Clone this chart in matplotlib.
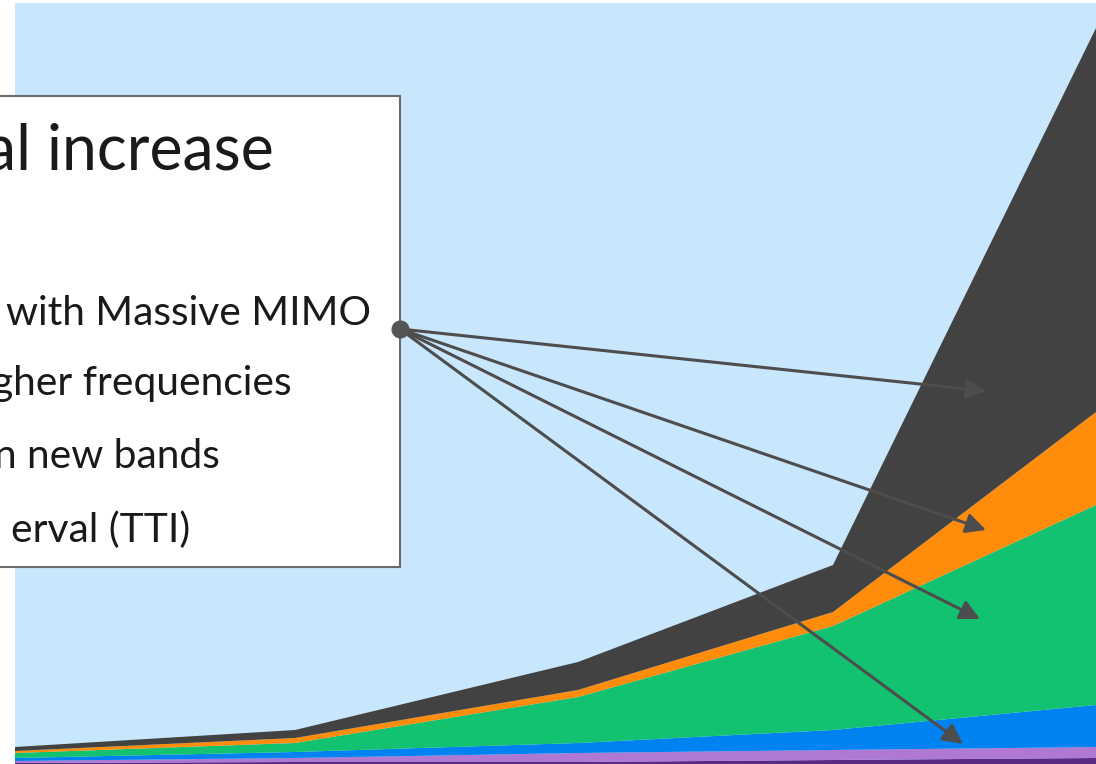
import matplotlib.pyplot as plt
from matplotlib.patches import Rectangle

# ---- data: stacked layers, bottom to top ----
x = [0, 280, 563, 818, 1081]
dark_purple = [1, 2, 2, 4, 6]
light_purple = [2, 4, 9, 10, 11]
blue = [3, 6, 10, 20, 42]
green = [5, 9, 46, 104, 200]
orange = [2, 5, 7, 14, 93]
gray = [4, 8, 28, 47, 384]

layers = [dark_purple, light_purple, blue, green, orange, gray]
colors = ['#5a2a82', '#af78d2', '#0082f0', '#12c271', '#ff8c0a', '#424242']

text_lines = ['with Massive MIMO', 'gher frequencies', 'n new bands', 'erval (TTI)']
title = 'al increase'

W, H = 1096, 764
fig = plt.figure(figsize=(W / 100, H / 100), dpi=100)
fig.patch.set_facecolor('white')

ax = fig.add_axes([15 / W, 0, (W - 15) / W, (H - 3) / H])
ax.set_facecolor('#c8e6fc')
ax.stackplot(x, *layers, colors=colors, linewidth=0)
ax.set_xlim(0, 1081)
ax.set_ylim(0, 761)
ax.set_axis_off()
ax.add_patch(Rectangle((0, 0), 1, 1, transform=ax.transAxes, color='#c8e6fc', zorder=-1))

# overlay in pixel coordinates for the callout box and arrows
ov = fig.add_axes([0, 0, 1, 1])
ov.set_xlim(0, W)
ov.set_ylim(H, 0)
ov.set_axis_off()
ov.patch.set_alpha(0)

ov.add_patch(Rectangle((-10, 96), 410, 471, facecolor='white',
                       edgecolor='#6b6b6b', lw=1.5, zorder=3))

font = ['Lato', 'DejaVu Sans']
ov.text(274, 170, title, ha='right', va='baseline', fontsize=45,
        family=font, color='#1a1a1a', zorder=4)
for (xr, yb), s in zip([(371, 325), (292, 395), (220, 468), (190, 542)], text_lines):
    ov.text(xr, yb, s, ha='right', va='baseline', fontsize=29.3,
            family=font, color='#1a1a1a', zorder=4)

start = (400, 329)
tips = [(986, 391), (986, 530), (980, 619), (963, 744)]
for t in tips:
    ov.annotate('', xy=t, xytext=start,
                arrowprops=dict(arrowstyle='-|>', color='#4d4d4d', lw=2.2,
                                mutation_scale=30, shrinkA=0, shrinkB=0),
                zorder=5)
ov.plot(*start, 'o', color='#555555', markersize=12, zorder=6)

fig.savefig('out.png', dpi=100)
